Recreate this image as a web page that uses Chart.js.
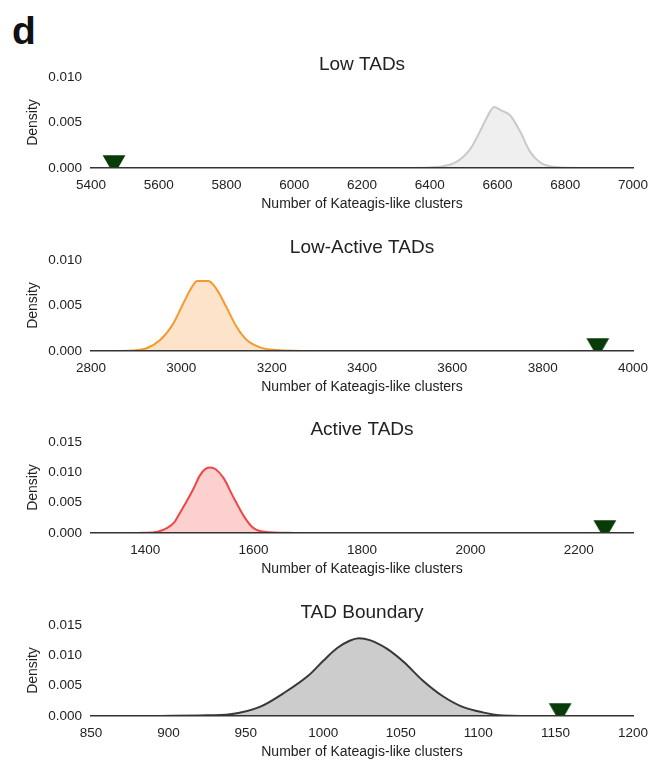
<!DOCTYPE html>
<html>
<head>
<meta charset="utf-8">
<script src="https://cdn.jsdelivr.net/npm/chart.js@4.4.1/dist/chart.umd.min.js"></script>
<style>
  html, body { margin: 0; padding: 0; background: #fff; width: 650px; height: 761px; overflow: hidden; }
  #wrap { position: relative; width: 650px; height: 761px; }
  #wrap canvas { position: absolute; left: 0; }
  #tag { position: absolute; left: 12px; top: 11px; font: bold 39px "Liberation Sans", Arial, sans-serif; line-height: 1; color: #111; }
</style>
</head>
<body>
<div id="wrap">
  <div id="tag">d</div>
  <canvas id="p0" width="650" height="190" style="top:37px"></canvas>
  <canvas id="p1" width="650" height="190" style="top:220px"></canvas>
  <canvas id="p2" width="650" height="190" style="top:402px"></canvas>
  <canvas id="p3" width="650" height="190" style="top:585px"></canvas>
</div>
<script>
// Permutation densities of Kateagis-like cluster counts, one panel per TAD class
const panelTitles = ['Low TADs', 'Low-Active TADs', 'Active TADs', 'TAD Boundary'];
const xAxisTitle = 'Number of Kateagis-like clusters';
const yAxisTitle = 'Density';

const lowX = [6330, 6400, 6440, 6470, 6495, 6520, 6548, 6568, 6590, 6612, 6637, 6667, 6696, 6726, 6755, 6790, 6860];
const lowY = [0, 0.00005, 0.0002, 0.0005, 0.0011, 0.0021, 0.0040, 0.0055, 0.0067, 0.0063, 0.0058, 0.0040, 0.0018, 0.0006, 0.0002, 0.00005, 0];

const lowActiveX = [2850, 2890, 2923, 2953, 2982, 3004, 3023, 3035, 3060, 3078, 3100, 3123, 3145, 3174, 3211, 3265];
const lowActiveY = [0, 0.00005, 0.0003, 0.0012, 0.0030, 0.0052, 0.0070, 0.0077, 0.0077, 0.0068, 0.0048, 0.0026, 0.0012, 0.0004, 0.0001, 0];

const activeX = [1369, 1400, 1423, 1440, 1454, 1464, 1477, 1489, 1501, 1512, 1520, 1530, 1545, 1561, 1584, 1600, 1620, 1676];
const activeY = [0, 0.00003, 0.0002, 0.0008, 0.0018, 0.0033, 0.0053, 0.0073, 0.0095, 0.0106, 0.0108, 0.0105, 0.0090, 0.0062, 0.0025, 0.0008, 0.0002, 0];

const boundaryX = [895, 920, 940, 959, 974, 991, 1000, 1009, 1017, 1023, 1030, 1041, 1052, 1064, 1077, 1090, 1103, 1116, 1150];
const boundaryY = [0, 0.0001, 0.0003, 0.0015, 0.0037, 0.0068, 0.0091, 0.0112, 0.0124, 0.0128, 0.0125, 0.0111, 0.0089, 0.0059, 0.0033, 0.0015, 0.0006, 0.0001, 0];

// observed cluster counts (triangles)
const observedCounts = [5468, 3922, 2248, 1153];

const xRanges = [[5400, 7000], [2800, 4000], [1300, 2300], [850, 1200]];
const xTickValues = [
  [5400, 5600, 5800, 6000, 6200, 6400, 6600, 6800, 7000],
  [2800, 3000, 3200, 3400, 3600, 3800, 4000],
  [1400, 1600, 1800, 2000, 2200],
  [850, 900, 950, 1000, 1050, 1100, 1150, 1200]
];
const yTickValues = [
  [0, 0.005, 0.010],
  [0, 0.005, 0.010],
  [0, 0.005, 0.010, 0.015],
  [0, 0.005, 0.010, 0.015]
];

const seriesX = [lowX, lowActiveX, activeX, boundaryX];
const seriesY = [lowY, lowActiveY, activeY, boundaryY];

const lineColors = ['#c9c9c9', '#f39a2e', '#ef4747', '#383838'];
const fillColors = ['#efefef', '#fce3ca', '#fdd0d0', '#cccccc'];
const markerColor = '#073b07';

Chart.defaults.font.family = '"Liberation Sans", Arial, Helvetica, sans-serif';
Chart.defaults.color = '#222';

// downward triangle glyph, its lower tip falls below the point and gets clipped at the axis
function triangleGlyph(color) {
  const c = document.createElement('canvas');
  c.width = 24; c.height = 40;
  const g = c.getContext('2d');
  g.fillStyle = color;
  g.beginPath();
  g.moveTo(0.6, 7.3);
  g.lineTo(23.4, 7.3);
  g.lineTo(12, 27);
  g.closePath();
  g.fill();
  return c;
}
const glyph = triangleGlyph(markerColor);

panelTitles.forEach((title, i) => {
  const pts = seriesX[i].map((x, k) => ({ x: x, y: seriesY[i][k] }));
  const yMax = yTickValues[i][yTickValues[i].length - 1];
  new Chart(document.getElementById('p' + i), {
    type: 'line',
    data: {
      datasets: [
        {
          data: pts,
          borderColor: lineColors[i],
          backgroundColor: fillColors[i],
          borderWidth: 2,
          fill: 'origin',
          pointRadius: 0,
          cubicInterpolationMode: 'monotone',
          order: 2
        },
        {
          data: [{ x: observedCounts[i], y: 0 }],
          showLine: false,
          pointStyle: glyph,
          pointRadius: 12,
          clip: 0,
          order: 1
        }
      ]
    },
    options: {
      responsive: false,
      animation: false,
      events: [],
      layout: { padding: { left: 0, right: 17, top: 0, bottom: 0 } },
      plugins: {
        legend: { display: false },
        tooltip: { enabled: false },
        title: {
          display: true,
          fullSize: false,
          text: title,
          color: '#222',
          font: { size: 19, weight: 'normal' },
          padding: { top: 16.2, bottom: 1 }
        }
      },
      scales: {
        x: {
          type: 'linear',
          min: xRanges[i][0],
          max: xRanges[i][1],
          grid: { display: false, drawTicks: false },
          border: { display: true, color: '#333', width: 1.6, z: 1 },
          afterBuildTicks: s => { s.ticks = xTickValues[i].map(v => ({ value: v })); },
          afterFit: s => { s.height = 59; s.paddingLeft = 0; s.paddingRight = 0; },
          ticks: { padding: 9.4, color: '#222', font: { size: 13.5 }, maxRotation: 0, callback: v => String(v) },
          title: { display: true, text: xAxisTitle, color: '#222', font: { size: 14 }, padding: { top: 0, bottom: 14.5 } }
        },
        y: {
          min: 0,
          max: yMax,
          grid: { display: false, drawTicks: false },
          border: { display: false },
          afterBuildTicks: s => { s.ticks = yTickValues[i].map(v => ({ value: v })); },
          afterFit: s => { s.width = 91; },
          ticks: { padding: 9, color: '#222', font: { size: 13.5 }, callback: v => v.toFixed(3) },
          title: { display: true, text: yAxisTitle, color: '#222', font: { size: 14 }, padding: { top: 24.6, bottom: 0 } }
        }
      }
    }
  });
});
</script>
</body>
</html>
